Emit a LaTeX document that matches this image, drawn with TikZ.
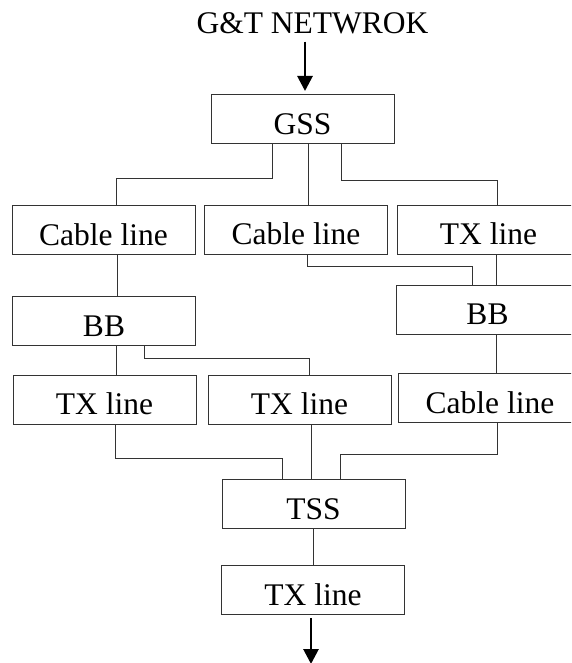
\documentclass[tikz,border=0pt]{standalone}
\usepackage{fontspec}
\setmainfont{Liberation Serif}
\usepackage{tikz}
\usetikzlibrary{arrows.meta}

\begin{document}
\begin{tikzpicture}[x=1pt,y=-1pt,
	font=\fontsize{31.5}{36}\selectfont,
	blk/.style={draw=black!80,line width=1pt,minimum width=183pt,minimum height=49pt,inner sep=0pt,text height=30pt,text depth=0pt},
	link/.style={draw=black!80,line width=0.9pt},
	flow/.style={-{Triangle[length=15pt,width=15pt]},line width=2.8pt}]
	\useasboundingbox (0,0) rectangle (571,663);
	\clip (0,0) rectangle (571,663);

	\node[inner sep=0pt,anchor=base] (0) at (312.5,34) {G\&T NETWROK};
	\node[blk] (1) at (302.5,119.5) {GSS};
	\node[blk] (2) at (103.5,230) {Cable line};
	\node[blk] (3) at (296,229.5) {Cable line};
	\node[blk] (4) at (488.5,229.5) {TX line};
	\node[blk] (5) at (104,321) {BB};
	\node[blk] (6) at (487.5,309.5) {BB};
	\node[blk] (7) at (104.5,399.5) {TX line};
	\node[blk] (8) at (299.5,399.5) {TX line};
	\node[blk] (9) at (490,398) {Cable line};
	\node[blk] (10) at (313.5,504) {TSS};
	\node[blk] (11) at (313,590) {TX line};
	\coordinate (12) at (311,664);

	\draw[flow,shorten <=7pt,shorten >=3.5pt] ([xshift=2.5pt]0.south -| 1.north) -- ([xshift=2.5pt]1.north);
	\draw[link] ([xshift=-30.5pt]1.south) -- ++(0,34) -| ([xshift=12.5pt]2.north);
	\path[link] ([xshift=5.5pt]1.south) edge ([xshift=12pt]3.north);
	\draw[link] ([xshift=38.5pt]1.south) -- ++(0,36) -| ([xshift=8.5pt]4.north);
	\path[link] ([xshift=13.5pt]2.south) edge ([xshift=13pt]5.north);
	\draw[link] ([xshift=11pt]3.south) -- ++(0,12) -| ([xshift=-15.5pt]6.north);
	\path[link] ([xshift=7.5pt]4.south) edge ([xshift=8.5pt]6.north);
	\path[link] ([xshift=12pt]5.south) edge ([xshift=11.5pt]7.north);
	\draw[link] ([xshift=40pt]5.south) -- ++(0,12) -| ([xshift=9.5pt]8.north);
	\path[link] ([xshift=8.5pt]6.south) edge ([xshift=6pt]9.north);
	\draw[link] ([xshift=10.5pt]7.south) -- ++(0,34) -| ([xshift=-31.5pt]10.north);
	\path[link] ([xshift=11.5pt]8.south) edge ([xshift=-2.5pt]10.north);
	\draw[link] ([xshift=7pt]9.south) -- ++(0,31) -| ([xshift=26.5pt]10.north);
	\path[link] ([xshift=-0.5pt]10.south) edge (11.north);
	\draw[flow,shorten <=3pt] ([xshift=-2pt]11.south) -- (12);
\end{tikzpicture}
\end{document}
